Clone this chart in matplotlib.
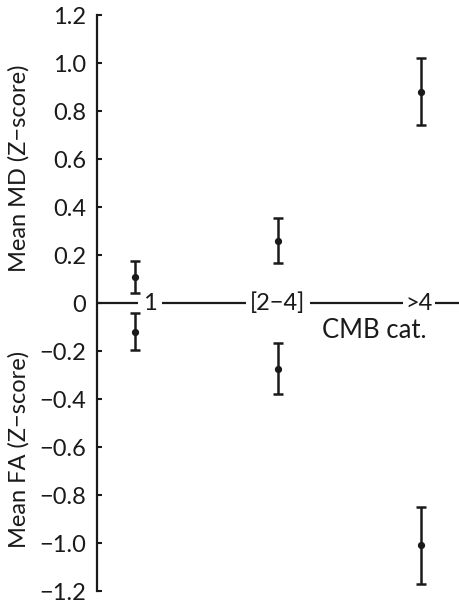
import numpy as np
import matplotlib
matplotlib.use("Agg")
import matplotlib.pyplot as plt

plt.rcParams['font.family'] = ['Lato', 'DejaVu Sans']

# CMB categories and group means with error bar limits
categories = ['1', '[2\u22124]', '>4']
md_mean = [0.107, 0.26, 0.88]
md_lo = [0.041, 0.166, 0.74]
md_hi = [0.173, 0.353, 1.02]
fa_mean = [-0.12, -0.273, -1.01]
fa_lo = [-0.196, -0.38, -1.17]
fa_hi = [-0.041, -0.166, -0.849]

yticks = [1.2, 1.0, 0.8, 0.6, 0.4, 0.2, 0, -0.2, -0.4, -0.6, -0.8, -1.0, -1.2]
ytick_labels = ['1.2', '1.0', '0.8', '0.6', '0.4', '0.2', '0',
                '\u22120.2', '\u22120.4', '\u22120.6', '\u22120.8', '\u22121.0', '\u22121.2']

col = '#1a1a1a'
fig = plt.figure(figsize=(4.6, 6.04), dpi=100)
ax = fig.add_axes([97/460, 13/604, 363/460, 576/604])

x = np.arange(len(categories))
for mean, lo, hi in [(md_mean, md_lo, md_hi), (fa_mean, fa_lo, fa_hi)]:
    mean = np.array(mean)
    err = [mean - np.array(lo), np.array(hi) - mean]
    ax.errorbar(x, mean, yerr=err, fmt='o', color=col, ms=4.2, lw=1.8,
                capsize=3.4, capthick=1.8, zorder=3)

# zero line acting as the category axis
ax.axhline(0, color=col, lw=1.6, zorder=1)
label_x = [0.105, 1.0, 1.986]
label_pad = [3.5, 3.0, 1.5]
for lx, lab, p in zip(label_x, categories, label_pad):
    ax.text(lx, 0, lab, ha='center', va='center', fontsize=17, color=col,
            bbox=dict(facecolor='white', edgecolor='none', pad=p), zorder=2)

ax.text(1.67, -0.115, 'CMB cat.', ha='center', va='center', fontsize=18.5, color=col)

ax.set_xlim(-38/143, 2 + 39/143)
ax.set_ylim(-1.2, 1.2)
ax.set_yticks(yticks)
ax.set_yticklabels(ytick_labels)
ax.set_xticks([])
for s in ['top', 'right', 'bottom']:
    ax.spines[s].set_visible(False)
ax.spines['left'].set_linewidth(1.6)
ax.spines['left'].set_color(col)
ax.tick_params(axis='y', direction='in', length=3.5, width=1.5, pad=8,
               labelsize=17, colors=col)

fig.text(19/460, 1 - 168/604, 'Mean MD (Z\u2212score)', rotation=90,
         ha='center', va='center', fontsize=17, color=col)
fig.text(19/460, 1 - 449/604, 'Mean FA (Z\u2212score)', rotation=90,
         ha='center', va='center', fontsize=17, color=col)

fig.savefig('out.png', dpi=100)
